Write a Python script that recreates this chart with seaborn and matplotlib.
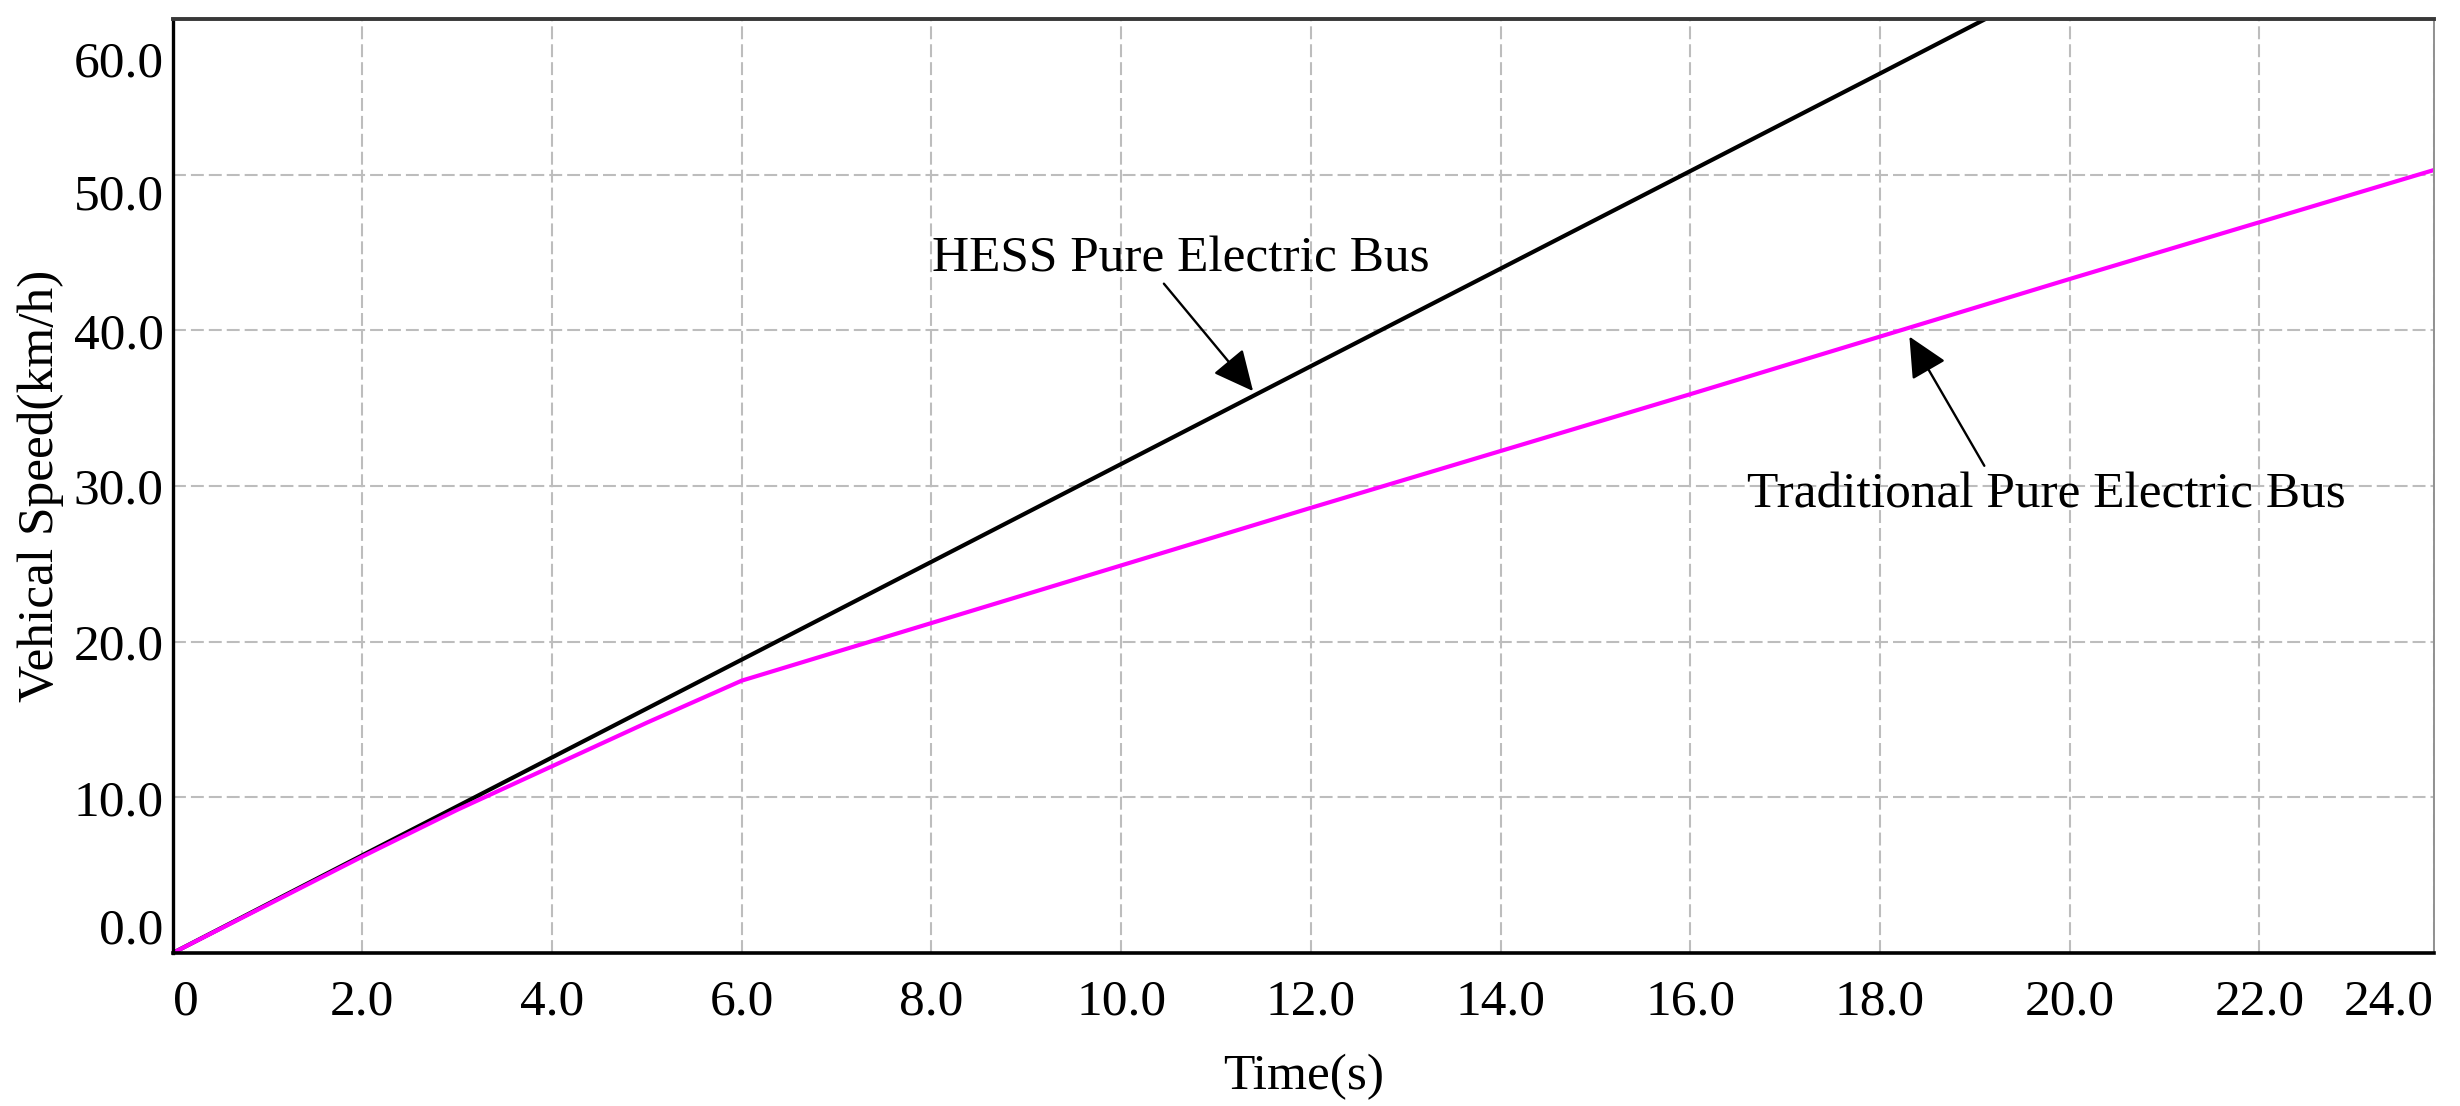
import matplotlib
matplotlib.use('Agg')
import matplotlib.pyplot as plt
import seaborn as sns
import pandas as pd
from matplotlib.transforms import ScaledTranslation

# Data
time_hess = [0, 6, 12, 18, 23.84]
speed_hess = [0, 18.85, 37.7, 56.5, 74.9]

time_trad = [0, 1, 2, 3, 4, 5, 6, 8, 12, 16, 20, 23.84]
speed_trad = [0, 3.1, 6.2, 9.2, 12.0, 14.8, 17.5, 21.2, 28.6, 35.9, 43.3, 50.3]

x_ticks = [0, 2, 4, 6, 8, 10, 12, 14, 16, 18, 20, 22, 24]
x_labels = ['0', '2.0', '4.0', '6.0', '8.0', '10.0', '12.0', '14.0', '16.0',
            '18.0', '20.0', '22.0', '24.0']
y_ticks = [0, 10, 20, 30, 40, 50, 60]
y_labels = ['0.0', '10.0', '20.0', '30.0', '40.0', '50.0', '60.0']

x_max = 23.84
y_max = 60

hess_label = 'HESS Pure Electric Bus'
trad_label = 'Traditional Pure Electric Bus'

def main():
    sns.set_theme(style='white')
    plt.rcParams['font.family'] = ['Liberation Serif', 'DejaVu Serif']
    plt.rcParams['text.color'] = 'black'
    plt.rcParams['axes.labelcolor'] = 'black'
    fs = 37

    fig = plt.figure(figsize=(24.6, 11.06), dpi=100)
    ax = fig.add_axes([0.0702, 0.1383, 0.9192, 0.8445])

    hess = pd.DataFrame({'t': time_hess, 'v': speed_hess})
    trad = pd.DataFrame({'t': time_trad, 'v': speed_trad})
    sns.lineplot(data=hess, x='t', y='v', color='black', linewidth=3.0,
                 estimator=None, sort=False, ax=ax)
    sns.lineplot(data=trad, x='t', y='v', color='#ff00ff', linewidth=3.0,
                 estimator=None, sort=False, ax=ax)

    ax.set_xlim(0, x_max)
    ax.set_ylim(0, y_max)

    # edge labels are pulled inside the frame, like the original tool does
    ax.set_xticks([min(t, x_max) for t in x_ticks])
    ax.set_xticklabels(x_labels)
    ax.set_yticks(y_ticks)
    ax.set_yticklabels(y_labels)
    ax.tick_params(axis='both', length=0, labelsize=fs, colors='black')
    ax.tick_params(axis='x', pad=19)
    ax.tick_params(axis='y', pad=6.5)

    xl = ax.get_xticklabels()
    xl[0].set_ha('left')
    xl[-1].set_ha('right')

    y_shift = [19.4, 0, 0, 0, 0, -12.2, -28.8]
    for lbl, dy in zip(ax.get_yticklabels(), y_shift):
        lbl.set_transform(lbl.get_transform() +
                          ScaledTranslation(0, dy / 72, fig.dpi_scale_trans))

    ax.set_axisbelow(True)
    ax.grid(True, color='#bdbdbd', linestyle=(0, (6.2, 2.4)), linewidth=1.5)

    ax.set_xlabel('Time(s)', fontsize=fs, labelpad=20)
    ax.set_ylabel('Vehical Speed(km/h)', fontsize=fs, labelpad=7)

    # frame
    for side, col, lw in [('left', 'black', 2.4), ('bottom', 'black', 2.6),
                          ('top', '#383838', 2.8), ('right', '#909090', 1.4)]:
        ax.spines[side].set_visible(True)
        ax.spines[side].set_color(col)
        ax.spines[side].set_linewidth(lw)

    # annotations
    arrow = dict(arrowstyle='-|>,head_length=0.5,head_width=0.24',
                 mutation_scale=50, color='black', lw=1.7,
                 shrinkA=0, shrinkB=0)
    ax.text(10.63, 43.8, hess_label, fontsize=fs, ha='center', va='baseline')
    ax.annotate('', xy=(11.39, 36.1), xytext=(10.45, 43.0), arrowprops=arrow)
    ax.text(19.75, 28.6, trad_label, fontsize=fs, ha='center', va='baseline')
    ax.annotate('', xy=(18.31, 39.6), xytext=(19.1, 31.3), arrowprops=arrow)

    fig.savefig('out.png', dpi=100, facecolor='white')
    plt.close(fig)

if __name__ == '__main__':
    main()
